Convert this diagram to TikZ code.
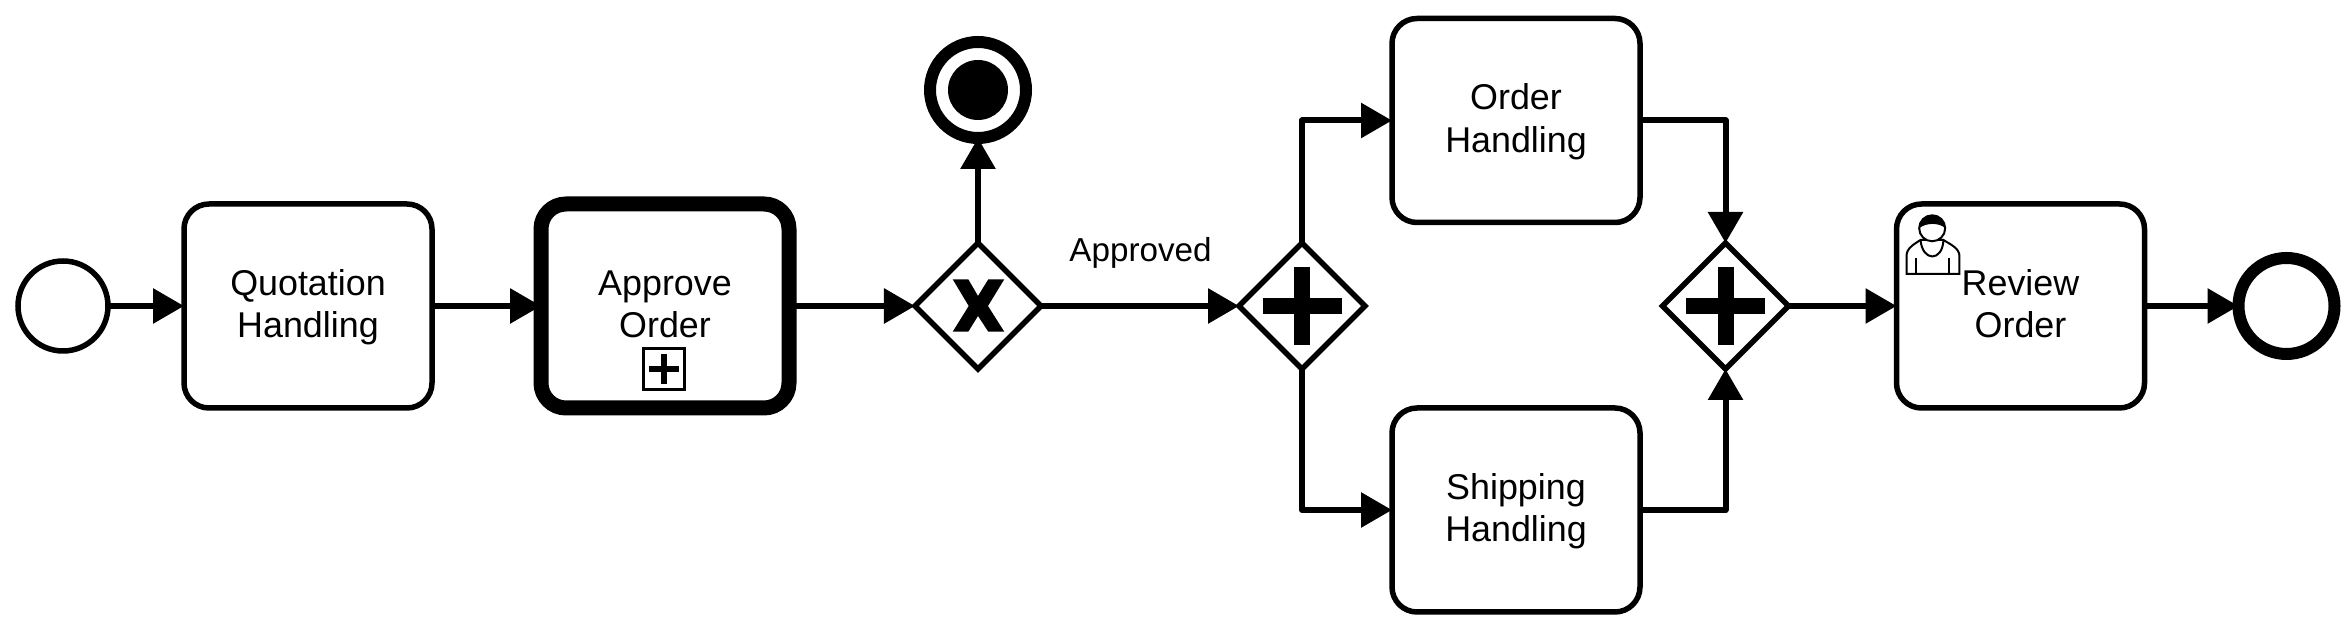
\documentclass[tikz,border=0pt]{standalone}
\usepackage{fontspec}
\setmainfont{Liberation Sans}
\usetikzlibrary{shapes.geometric, arrows.meta, positioning}

\begin{document}
\begin{tikzpicture}[
  font=\fontsize{10.2pt}{12.2pt}\selectfont,
  outer sep=0pt,
  taskbox/.style={rectangle, rounded corners=0.25cm, draw=black, fill=white,
              line width=0.055cm, minimum width=2.48cm, minimum height=2.04cm,
              inner sep=0pt, align=center, text height=0.72cm, text depth=0.08cm},
  subtaskbox/.style={taskbox, line width=0.15cm},
  gateway/.style={diamond, draw=black, fill=white, line width=0.055cm,
              minimum size=1.26cm, inner sep=0pt},
  startevent/.style={circle, draw=black, fill=white, line width=0.055cm,
              minimum size=0.9cm, inner sep=0pt},
  endevent/.style={startevent, line width=0.12cm, minimum size=0.96cm},
  arrow/.style={-{Triangle[length=0.31cm, width=0.34cm]}, line width=0.06cm,
              line join=round},
  plusbar/.style={line width=0.16cm},
]
\useasboundingbox (0,0) rectangle (23.52,-6.3);

% main row
\node[startevent] (start) at (0.63,-3.06) {};
\node[taskbox, right=0.76cm of start] (quote) {Quotation\\Handling};
\node[subtaskbox, right=1.09cm of quote] (approve) {Approve\\Order};
\node[gateway, right=1.26cm of approve] (gwxor) {};
\node[gateway, right=1.98cm of gwxor] (gwsplit) {};
\node[gateway, right=2.975cm of gwsplit] (gwjoin) {};
\node[taskbox, right=1.08cm of gwjoin] (review) {Review\\Order};
\node[endevent, right=0.94cm of review] (finish) {};

% branches
\node[endevent, above=1.05cm of gwxor] (stop) {};
\node[circle, fill=black, minimum size=0.6cm, inner sep=0pt] (stopdot) at (stop) {};
\node[taskbox, above right=0.52cm and 0.585cm of gwsplit] (orderh) {Order\\Handling};
\node[taskbox, below right=0.705cm and 0.585cm of gwsplit] (shiph) {Shipping\\Handling};

\draw[arrow] (start) -- (quote);
\draw[arrow] (quote) -- (approve);
\draw[arrow] (approve) -- (gwxor);
\draw[arrow] (gwxor) -- (stop);
\draw[arrow] (gwxor) -- node[midway, above=0.38cm, inner sep=0pt, xshift=0.005cm,
  font=\fontsize{9.45pt}{11pt}\selectfont] (approved) {Approved} (gwsplit);
\draw[arrow] (gwsplit.north) |- (orderh.west);
\draw[arrow] (gwsplit.south) |- (shiph.west);
\draw[arrow] (orderh.east) -| (gwjoin.north);
\draw[arrow] (shiph.east) -| (gwjoin.south);
\draw[arrow] (gwjoin) -- (review);
\draw[arrow] (review) -- (finish);

% gateway markers
\foreach \gw in {gwsplit, gwjoin} {
  \draw[plusbar] ([xshift=-0.395cm]\gw.center) -- ([xshift=0.395cm]\gw.center);
  \draw[plusbar] ([yshift=-0.39cm]\gw.center) -- ([yshift=0.39cm]\gw.center);
}
\fill[shift={(gwxor.center)}, x=0.01cm, y=0.01cm]
  (-25.3,26.7) -- (-9.7,26.7) -- (0,10) -- (10.3,26.7) -- (26.3,26.7) -- (10,0)
  -- (26.3,-25.7) -- (10.3,-25.7) -- (0,-10) -- (-9.7,-25.7) -- (-25.3,-25.7)
  -- (-9.3,0) -- cycle;

% subprocess marker
\node[rectangle, draw=black, fill=white, line width=0.03cm, minimum size=0.41cm,
  inner sep=0pt] (submark) at ([xshift=-0.015cm, yshift=0.39cm]approve.south) {};
\draw[line width=0.06cm] ([xshift=-0.15cm]submark.center) -- ([xshift=0.15cm]submark.center);
\draw[line width=0.06cm] ([yshift=-0.15cm]submark.center) -- ([yshift=0.15cm]submark.center);

% user icon
\begin{scope}[shift={(review.north west)}, x=0.01cm, y=-0.01cm, line width=0.02cm]
  \draw[fill=white] (10,70) -- (10,52) .. controls (10,44) and (18,40) .. (24,36)
    -- (47,36) .. controls (53,40) and (63,44) .. (63,52) -- (63,70) -- cycle;
  \draw (24,36) .. controls (26,58) and (46,58) .. (47,36);
  \draw (19.7,54) -- (19.7,70);
  \draw (53,54) -- (53,70);
  \draw[fill=white] (35.7,24.3) circle[radius=13];
  \fill (22.7,24.3) arc[start angle=180, end angle=360, radius=13]
    .. controls (44,19) and (30,18) .. cycle;
\end{scope}

\end{tikzpicture}
\end{document}
